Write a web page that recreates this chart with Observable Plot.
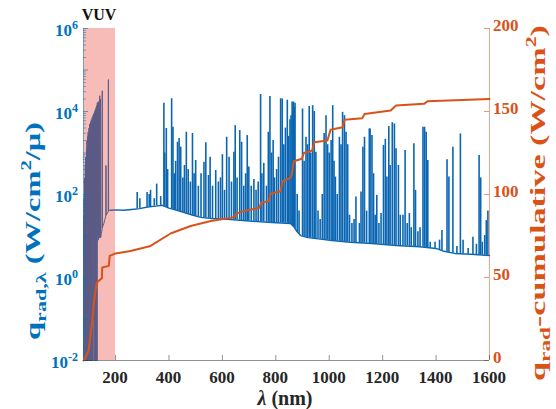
<!DOCTYPE html>
<html><head><meta charset="utf-8">
<script src="https://cdn.jsdelivr.net/npm/d3@7"></script>
<script src="https://cdn.jsdelivr.net/npm/@observablehq/plot@0.6"></script>
<style>
body{margin:0;background:#fff;}
#wrap{position:relative;width:556px;height:409px;overflow:hidden;}
#wrap svg{position:absolute;left:0;top:0;}
#wrap svg text{font-family:"Liberation Serif","Times New Roman",serif !important;font-weight:bold;}
</style></head><body><div id="wrap"></div>
<script>
// ---- data (wavelength nm, log10 of q_rad,λ in W/cm2/μ) ----
const vuvSpectrum = [[80.5,-2],[81,1.5],[81.6,-2],[82.3,1.9],[83,-2],[83.8,2.4],[84.5,-2],[85.3,2.1],[86,-2],[86.8,2.7],[87.5,-1.2],[88.3,2.9],[89,-2],[89.8,2.6],[90.5,-2],[91.3,3.1],[92,-2],[92.8,3.3],[93.5,-0.5],[94.3,3.0],[95,-2],[95.8,3.4],[96.5,-2],[97.3,3.5],[98,0.2],[98.8,3.2],[99.5,-2],[100.3,3.6],[101,-2],[101.8,3.4],[102.5,0.5],[103.3,3.7],[104,-2],[104.8,3.5],[105.5,-2],[106.3,3.75],[107,0.8],[107.8,3.6],[108.5,-2],[109.3,3.8],[110,-2],[110.8,3.55],[111.5,0.9],[112.3,3.85],[113,-2],[113.8,3.7],[114.5,1.0],[115.3,3.9],[116,-2],[116.8,3.75],[117.5,1.0],[118.3,3.95],[119,-1],[119.8,3.8],[120.5,1.1],[121.3,4.0],[122,-2],[122.8,3.85],[123.5,1.0],[124.3,4.05],[125,-2],[125.8,3.9],[126.5,1.1],[127.3,4.1],[128,-2],[128.8,3.95],[129.5,1.1],[130.3,4.15],[131,-2],[131.8,4.22],[132.5,1.0],[133.3,4.0],[134,1.1],[134.8,4.2],[135.5,0.9],[136.3,4.05],[137,1.0],[137.8,4.25],[138.5,0.95],[139.3,4.1],[140,1.0],[140.8,4.38],[141.5,0.95],[142.3,4.0],[143,1.0],[143.8,4.3],[144.5,0.97],[146,1.05],[148,1.1],[149.5,1.15],[150.2,4.5],[150.9,1.2],[153,1.25],[156,1.3],[160,1.4],[163.5,1.48],[164.2,2.7],[164.9,1.5],[169,1.55],[172.5,1.58],[173.2,4.77],[173.9,1.6],[177,1.62],[181,1.62]];

const continuum = [[181,1.62],[200,1.63],[230,1.62],[260,1.64],[290,1.66],[320,1.7],[350,1.72],[375,1.74],[400,1.67],[430,1.62],[460,1.56],[490,1.5],[520,1.45],[560,1.42],[620,1.4],[700,1.36],[770,1.33],[855,1.3],[868,1.22],[880,1.1],[893,1.01],[920,0.96],[960,0.93],[1010,0.89],[1080,0.85],[1160,0.82],[1250,0.77],[1340,0.74],[1400,0.7],[1425,0.64],[1470,0.58],[1530,0.56],[1600,0.53]];

const emissionLines = [[281,2.05],[291,1.9],[318,2.05],[326,2.0],[331,2.1],[345,1.9],[354,2.25],[369,1.95],
[381,4.2],[384,3.0],[390,3.59],[395,2.6],[410,4.31],[415,3.62],[420,2.5],[425,2.8],[432,3.26],[438,3.35],[444,3.14],[452,2.4],[458,2.7],[465,3.5],[472,2.6],[480,2.3],[488,3.47],[494,2.5],[500,2.82],[510,2.2],[520,2.5],[531,2.78],[538,3.25],[548,2.46],[554,2.9],[563,2.2],[575,2.58],[585,2.3],[593,2.4],[600,2.96],[608,2.1],[616,3.38],[625,2.9],[634,2.3],[643,3.02],[648,3.66],[655,2.4],[665,3.54],[672,3.26],[680,2.2],[687,2.5],[693,3.42],[699,2.66],[708,2.2],[718,2.36],[726,2.1],[734,2.3],[743,4.41],[748,2.5],[755,2.75],[765,2.2],[772,3.5],[778,4.36],[784,3.0],[790,3.3],[795,2.4],[803,2.6],[810,2.9],[818,4.31],[824,4.3],[830,3.2],[836,3.6],[843,4.27],[848,3.4],[853,3.8],[857,3.9],[861,4.23],[864,4.0],[866,4.23],[869,4.1],[872,4.2],[880,2.0],[887,1.6],[900,4.06],[906,2.8],[913,3.38],[919,3.2],[925,4.12],[931,3.0],[938,4.14],[944,4.0],[950,3.02],[958,1.6],[966,1.4],[974,2.0],[981,3.47],[988,3.9],[994,3.2],[1000,3.0],[1007,3.3],[1013,4.14],[1018,2.8],[1023,2.42],[1030,2.0],[1038,3.38],[1044,3.2],[1050,3.98],[1057,3.9],[1063,3.5],[1069,3.2],[1076,1.5],[1085,1.3],[1093,1.4],[1100,1.94],[1113,1.3],[1119,2.06],[1126,3.14],[1132,3.38],[1140,1.6],[1150,3.58],[1153,3.58],[1160,3.42],[1166,2.5],[1172,1.5],[1178,1.98],[1186,1.3],[1194,1.54],[1203,3.18],[1210,3.33],[1216,2.42],[1223,3.64],[1228,2.7],[1236,3.73],[1244,3.7],[1250,3.1],[1259,2.7],[1266,1.5],[1276,1.5],[1284,3.06],[1292,1.3],[1300,1.54],[1307,1.2],[1317,3.22],[1323,2.1],[1332,1.1],[1340,1.2],[1351,3.62],[1357,3.62],[1363,3.5],[1369,2.82],[1378,0.85],[1396,0.85],[1413,0.9],[1422,1.13],[1441,2.84],[1448,2.42],[1463,3.14],[1478,0.75],[1491,3.46],[1501,0.9],[1520,0.7],[1538,0.97],[1551,0.8],[1561,2.94],[1567,2.4],[1573,0.85],[1582,1.01],[1588,1.37],[1594,1.6]];

// cumulative radiative flux (W/cm2)
const cumulative = [[80,0],[88,2],[99,6],[106,15],[113,24],[119,35],[125,42],[130,47],[144,49],[149,49.5],[150,56],[175,57],[178,63],[200,64.5],[256,66],[331,69],[406,76.5],[481,81],[557,84],[632,86],[646,86.5],[651,88.5],[680,90],[738,92],[745,95],[774,96],[780,100.5],[818,102],[825,108],[855,110],[860,112],[867,120],[898,121.5],[905,125],[936,126.5],[944,131.5],[993,132.5],[1005,139],[1050,140.5],[1057,145],[1124,146],[1132,148.5],[1230,150.6],[1250,153.6],[1355,154.6],[1368,156.2],[1600,157.6]];

const vuvBand = [80, 200];
const xDomain = [80, 1600];
const xTicks = [200, 400, 600, 800, 1000, 1200, 1400, 1600];
const leftTickExps = [-2, 0, 2, 4, 6];
const rightTicks = [0, 50, 100, 150, 200];

// ---- layout ----
const W = 556, H = 409, mL = 83, mR = 67, mT = 28, mB = 49;
const plotW = W - mL - mR, plotH = H - mT - mB;
const blue = "#0a66b2", orange = "#d95319", axisBlue = "#0072bd", dark = "#262626";

const decades = d3.range(-2, 7).map(e => 10 ** e);
const minors = d3.scaleLog().domain([1e-2, 1e6]).ticks().filter(v => !decades.some(d => Math.abs(d - v) / d < 1e-9));

const p1 = Plot.plot({
  width: W, height: H, marginLeft: mL, marginRight: mR, marginTop: mT, marginBottom: mB,
  style: {background: "white"},
  x: {domain: xDomain, axis: null},
  y: {type: "log", domain: [1e-2, 1e6], axis: null},
  marks: [
    Plot.ruleX(emissionLines, {x: d => d[0], y1: 1e-2, y2: d => 10 ** d[1], stroke: blue, strokeWidth: 1.6}),
    Plot.areaY(continuum, {x: d => d[0], y1: 1e-2, y2: d => 10 ** d[1], fill: "white"}),
    Plot.line(continuum, {x: d => d[0], y: d => 10 ** d[1], stroke: blue, strokeWidth: 1.4}),
    Plot.line(vuvSpectrum, {x: d => d[0], y: d => 10 ** d[1], stroke: blue, strokeWidth: 1}),
    Plot.rect([vuvBand], {x1: d => d[0], x2: d => d[1], y1: 1e-2, y2: 1e6, fill: "#e8483c", fillOpacity: 0.37}),
    Plot.ruleX([xDomain[0]], {stroke: axisBlue, strokeOpacity: 0.45}),
    Plot.ruleY(decades, {insetRight: plotW - 5, stroke: axisBlue, strokeOpacity: 0.6}),
    Plot.ruleY(minors, {insetRight: plotW - 3, stroke: axisBlue, strokeOpacity: 0.5})
  ]
});

const p2 = Plot.plot({
  width: W, height: H, marginLeft: mL, marginRight: mR, marginTop: mT, marginBottom: mB,
  style: {background: "transparent"},
  x: {domain: xDomain, axis: null},
  y: {domain: [0, 200], axis: null},
  marks: [
    Plot.line(cumulative, {x: d => d[0], y: d => d[1], stroke: orange, strokeWidth: 2}),
    Plot.ruleX([xDomain[1]], {stroke: orange, strokeOpacity: 0.5}),
    Plot.ruleY(rightTicks, {insetLeft: plotW - 5, stroke: orange, strokeOpacity: 0.6}),
    Plot.ruleY([0], {stroke: dark, strokeOpacity: 0.5}),
    Plot.ruleX(xTicks, {insetTop: plotH - 5, stroke: dark, strokeOpacity: 0.5})
  ]
});

const wrap = document.getElementById("wrap");
wrap.appendChild(p1);
wrap.appendChild(p2);

const xs = p2.scale("x"), yl = p1.scale("y"), yr = p2.scale("y");
const svg = d3.select(p2);
const txt = (sel) => sel.style("font-family", '"Liberation Serif","Times New Roman",serif').style("font-weight", "bold");

// bottom tick labels
xTicks.forEach(t => {
  txt(svg.append("text")).attr("x", xs.apply(t)).attr("y", 383).attr("text-anchor", "middle")
    .style("font-size", "17px").attr("fill", dark).text(t);
});
// left tick labels (10^n)
leftTickExps.forEach(e => {
  const t = txt(svg.append("text")).attr("x", 78).attr("y", yl.apply(10 ** e) + 8)
    .attr("text-anchor", "end").style("font-size", "17px").attr("fill", axisBlue);
  t.append("tspan").text("10");
  t.append("tspan").attr("dy", -7).style("font-size", "12px").text(String(e));
});
// right tick labels
rightTicks.forEach(v => {
  txt(svg.append("text")).attr("x", 493).attr("y", yr.apply(v) + 3).attr("text-anchor", "start")
    .style("font-size", "17px").attr("fill", orange).text(v);
});
// x label
{
  const t = txt(svg.append("text")).attr("x", 285).attr("y", 405).attr("text-anchor", "middle")
    .style("font-size", "20px").attr("fill", dark);
  t.append("tspan").style("font-style", "italic").text("λ");
  t.append("tspan").text(" (nm)");
}
// VUV label
txt(svg.append("text")).attr("x", xs.apply((vuvBand[0] + vuvBand[1]) / 2)).attr("y", 20)
  .attr("text-anchor", "middle").style("font-size", "16px").attr("fill", "#111").text("VUV");

// rotated axis titles
function rotLabel(cx, cy, target, color, parts) {
  const t = txt(svg.append("text")).attr("text-anchor", "middle").style("font-size", "22px").attr("fill", color);
  parts.forEach(([s, dy, fs]) => {
    const sp = t.append("tspan").text(s);
    if (dy) sp.attr("dy", dy);
    if (fs) sp.style("font-size", fs + "px");
  });
  const len = t.node().getComputedTextLength();
  const s = target / len;
  t.attr("transform", `translate(${cx},${cy}) rotate(-90) scale(${s},1)`);
}
rotLabel(40, 231, 218, axisBlue, [["q"], ["rad,λ", 6, 15], [" (W/cm", -6], ["2", -9, 14], ["/μ)", 9]]);
rotLabel(545, 203, 356, orange, [["q"], ["rad", 5, 15], ["-cumulative (W/cm", -5], ["2", -9, 14], [")", 9]]);
</script></body></html>
